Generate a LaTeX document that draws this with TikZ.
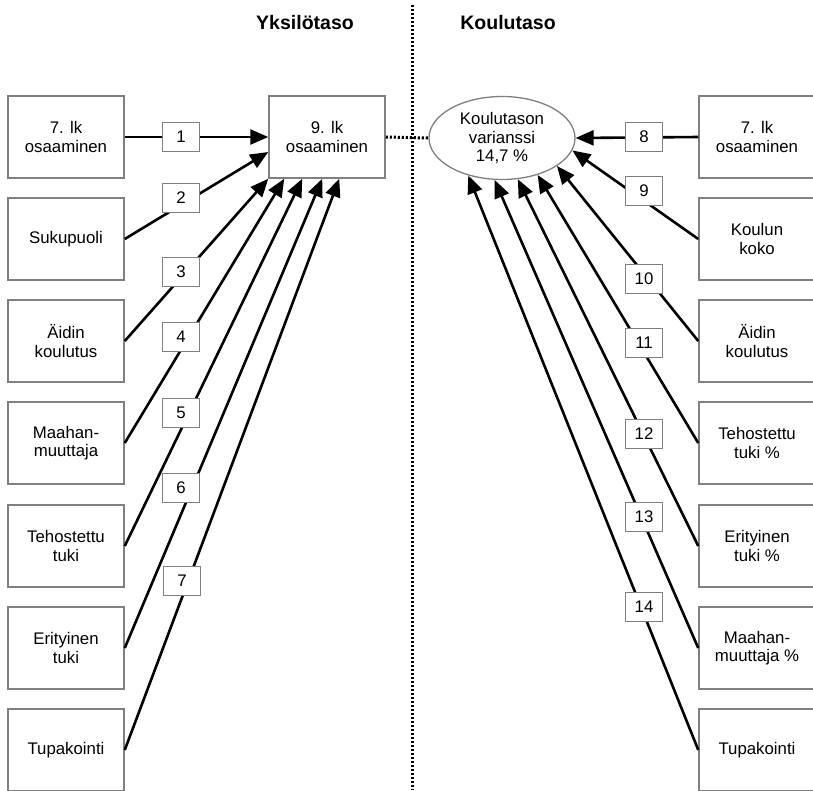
\documentclass[tikz,border=0pt]{standalone}
\usepackage{fontspec}
\setmainfont{Liberation Sans}
\usetikzlibrary{arrows.meta,shapes.geometric}

\begin{document}
\begin{tikzpicture}[
x=1pt,y=-1pt,
box/.style={rectangle,draw=black!50,line width=1.5pt,fill=white,
  minimum width=116pt,minimum height=82pt,align=center,
  font=\fontsize{16.8}{18.5}\selectfont},
lab/.style={rectangle,draw=black!50,line width=1.1pt,fill=white,
  minimum width=37pt,minimum height=29pt,inner sep=0pt,
  font=\fontsize{16.8}{18.5}\selectfont},
arr/.style={line width=2.6pt,-{Triangle[length=18pt,width=15pt]}},
dots/.style={line width=3pt,dash pattern=on 2.2pt off 1.8pt},
title/.style={font=\fontsize{19.5}{22}\selectfont\bfseries},
]
\useasboundingbox[fill=white] (0,0) rectangle (813,790);

% headings and divider
\node[title] (yks) at (305,23) {Yksilötaso};
\node[title] (kou) at (508,23) {Koulutaso};
\coordinate (divtop) at (412,5);
\coordinate (divbot) at (412,790);
\draw[dots] (divtop) -- (divbot);

% individual level
\node[box] (t) at (327,137) {9. lk\\osaaminen};
\node[box] (iOsa) at (66,137) {7. lk\\osaaminen};
\node[box] (iSuku) at (66,239) {Sukupuoli};
\node[box] (iAidi) at (66,341) {Äidin\\koulutus};
\node[box] (iMaah) at (66,443) {Maahan-\\muuttaja};
\node[box] (iTeho) at (66,546) {Tehostettu\\tuki};
\node[box] (iErit) at (66,648) {Erityinen\\tuki};
\node[box] (iTupa) at (66,750) {Tupakointi};

% school level
\node[ellipse,draw=black!50,line width=1.3pt,fill=white,
  minimum width=146pt,minimum height=83pt,inner sep=0pt,align=center,
  font=\fontsize{16.8}{18.5}\selectfont] (v) at (502,138)
  {Koulutason\\varianssi\\14,7 \%};
\node[box] (kOsa) at (757,137) {7. lk\\osaaminen};
\node[box] (kKoko) at (757,239) {Koulun\\koko};
\node[box] (kAidi) at (757,341) {Äidin\\koulutus};
\node[box] (kTeho) at (757,443) {Tehostettu\\tuki \%};
\node[box] (kErit) at (757,546) {Erityinen\\tuki \%};
\node[box] (kMaah) at (757,648) {Maahan-\\muuttaja \%};
\node[box] (kTupa) at (757,750) {Tupakointi};

\draw[dots] (t.east) -- (v.west);

% paths
\draw[arr] (iOsa.east) -- (t.west);
\draw[arr] (iSuku.east) -- ([yshift=-15pt]t.west);
\draw[arr] (iAidi.east) -- (t.south west);
\draw[arr] (iMaah.east) -- ([xshift=16pt]t.south west);
\draw[arr] (iTeho.east) -- ([xshift=34pt]t.south west);
\draw[arr] (iErit.east) -- ([xshift=54pt]t.south west);
\draw[arr] (iTupa.east) -- ([xshift=71pt]t.south west);

\draw[arr] (kOsa.west) -- (v.east);
\draw[arr] (kKoko.west) -- (v.-10);
\draw[arr] (kAidi.west) -- (v.-27);
\draw[arr] (kTeho.west) -- (v.-46);
\draw[arr] (kErit.west) -- (v.-69);
\draw[arr] (kMaah.west) -- (v.-100);
\draw[arr] (kTupa.west) -- (v.-132);

% path numbers
\node[lab] (n1) at (181,137) {1};
\node[lab] (n2) at (181,198) {2};
\node[lab] (n3) at (181,272) {3};
\node[lab] (n4) at (181,337) {4};
\node[lab] (n5) at (181,413) {5};
\node[lab] (n6) at (181,488) {6};
\node[lab] (n7) at (182,581) {7};
\node[lab] (n8) at (644,137) {8};
\node[lab] (n9) at (644,191) {9};
\node[lab] (n10) at (644,279) {10};
\node[lab] (n11) at (644,343) {11};
\node[lab] (n12) at (644,434) {12};
\node[lab] (n13) at (644,517) {13};
\node[lab] (n14) at (644,607) {14};
\end{tikzpicture}
\end{document}
